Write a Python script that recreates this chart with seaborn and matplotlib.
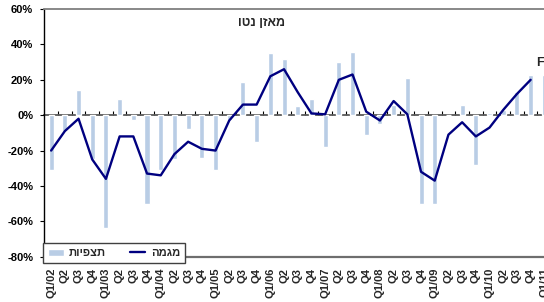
import numpy as np
import pandas as pd
import matplotlib
matplotlib.use("Agg")
import matplotlib.pyplot as plt
import seaborn as sns

# רבעונים
quarters = [
    "Q1/02", "Q2", "Q3", "Q4",
    "Q1/03", "Q2", "Q3", "Q4",
    "Q1/04", "Q2", "Q3", "Q4",
    "Q1/05", "Q2", "Q3", "Q4",
    "Q1/06", "Q2", "Q3", "Q4",
    "Q1/07", "Q2", "Q3", "Q4",
    "Q1/08", "Q2", "Q3", "Q4",
    "Q1/09", "Q2", "Q3", "Q4",
    "Q1/10", "Q2", "Q3", "Q4",
    "Q1/11",
]

# תצפיות (%)
observed = [
    -31, -9, 14, -25, -64, 9, -3, -50, -31, -25, -8, -24,
    -31, -3, 19, -15, 35, 32, 5, 9, -18, 30, 36, -11,
    -5, 6, 21, -50, -50, 0, 6, -28, 1, 3, 13, 23, 23,
]

# מגמה (%)
trend = [
    -20, -9, -2, -25, -36, -12, -12, -33, -34, -22, -15, -19,
    -20, -3, 6, 6, 22, 26, 13, 1, 0.5, 20, 23, 2,
    -3, 8, 0.5, -32, -37, -11, -4, -12, -7, 3, 12, 20, np.nan,
]

title_he = "מאזן נטו"
label_obs = "תצפיות"
label_trend = "מגמה"


def rtl(s):
    # matplotlib לא תומך בכיווניות, לכן הופכים את הסדר
    return s[::-1]


def main():
    sns.set_style("white")
    plt.rcParams["font.family"] = ["Liberation Sans", "DejaVu Sans"]
    plt.rcParams["font.weight"] = "bold"

    df = pd.DataFrame({
        "pos": np.arange(len(quarters)),
        "observed": observed,
        "trend": trend,
    })

    fig = plt.figure(figsize=(5.44, 3.02), dpi=100)
    ax = fig.add_axes([0.0814, 0.15, 0.957, 0.820])

    sns.barplot(data=df, x="pos", y="observed", color="#B9CDE5",
                saturation=1, width=0.37, ax=ax, label=rtl(label_obs),
                native_scale=True)
    sns.lineplot(data=df, x="pos", y="trend", color="#000080",
                 linewidth=1.7, ax=ax, label=rtl(label_trend))

    ax.set_xlim(-0.5, 37.5)
    ax.set_ylim(-80, 60)
    ax.set_yticks(np.arange(-80, 61, 20))
    ax.set_yticklabels([f"{v}%" for v in range(-80, 61, 20)])
    ax.set_xticks(df["pos"])
    ax.set_xticklabels(quarters, rotation=90)
    ax.set_xlabel("")
    ax.set_ylabel("")

    ax.tick_params(axis="y", direction="out", length=3, width=0.8,
                   pad=5, labelsize=8, left=True, colors="black")
    ax.tick_params(axis="x", length=0, pad=8, labelsize=8,
                   bottom=False, top=False)
    for lab in ax.get_xticklabels() + ax.get_yticklabels():
        lab.set_fontweight("bold")

    ax.spines["left"].set_color("black")
    ax.spines["left"].set_linewidth(1)
    ax.spines["top"].set_color("#7F7F7F")
    ax.spines["top"].set_linewidth(1.3)
    ax.spines["bottom"].set_color("#6E6E6E")
    ax.spines["bottom"].set_linewidth(1.6)
    ax.spines["right"].set_visible(False)

    # קו האפס עם שנתות בין הרבעונים
    zero = ax.secondary_xaxis(80 / 140)
    zero.set_xticks(np.arange(0.5, 37, 1))
    zero.xaxis.set_ticks_position("top")
    zero.tick_params(axis="x", which="both", direction="out", length=3,
                     width=0.8, top=True, bottom=False, labeltop=False,
                     labelbottom=False, color="black")
    zero.tick_params(axis="x", which="minor", length=0)
    zero.spines["top"].set_color("#595959")
    zero.spines["top"].set_linewidth(1.3)
    zero.spines["bottom"].set_visible(False)

    fig.text(262 / 544, 1 - 23 / 302, rtl(title_he), ha="center",
             va="center", fontsize=9, fontweight="bold")
    ax.text(35.4, 29.5, "F", ha="left", va="center", fontsize=9,
            fontweight="bold")

    handles, labels = ax.get_legend_handles_labels()
    order = [labels.index(rtl(label_obs)), labels.index(rtl(label_trend))]
    leg = ax.legend([handles[i] for i in order], [labels[i] for i in order],
                    ncol=2, loc="lower left", mode="expand",
                    bbox_to_anchor=(43 / 544, 39 / 302, 142 / 544, 24 / 302),
                    bbox_transform=fig.transFigure, borderaxespad=0,
                    frameon=True, fancybox=False, framealpha=1,
                    edgecolor="#404040", handlelength=1.4,
                    handleheight=0.6, handletextpad=0.5, columnspacing=1.2,
                    borderpad=0.45, prop={"weight": "bold", "size": 8})
    leg.get_frame().set_linewidth(1)

    fig.savefig("out.png", dpi=100)


if __name__ == "__main__":
    main()
